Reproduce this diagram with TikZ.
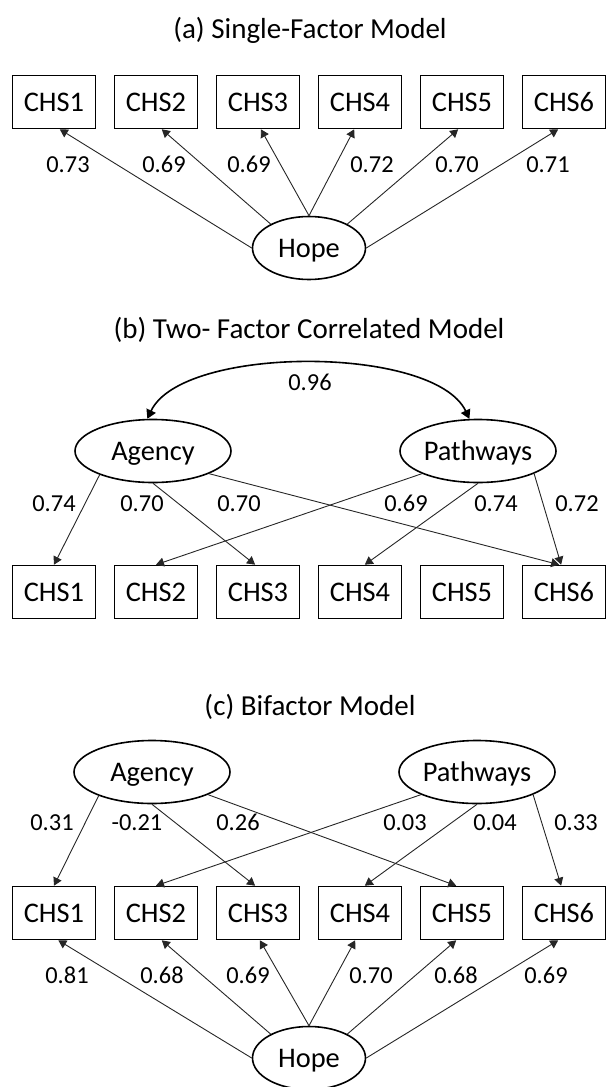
\documentclass[tikz,border=0pt]{standalone}
\usepackage{fontspec}
\setmainfont{Carlito}
\usepackage{tikz}
\usetikzlibrary{arrows.meta,positioning,shapes.geometric}
\tikzset{
  obsbox/.style={rectangle, draw=black, line width=0.8pt, minimum width=41.5pt, minimum height=26.5pt, inner sep=0pt, text height=9pt, text depth=0pt, font=\fontsize{14.2}{16}\selectfont},
  latent/.style={ellipse, draw=black, line width=0.8pt, minimum height=31.5pt, inner sep=0pt, text height=9pt, text depth=0pt, font=\fontsize{14.2}{16}\selectfont},
  loadlbl/.style={inner sep=0pt, text height=7.6pt, text depth=0pt, font=\fontsize{12.2}{14}\selectfont},
  paneltitle/.style={inner sep=0pt, font=\fontsize{14.5}{17}\selectfont},
  flowarrow/.style={-{Triangle[length=4pt,width=4.5pt]}, line width=0.45pt, draw=black!85},
  corrarrow/.style={{Triangle[length=4.5pt,width=5pt]}-{Triangle[length=4.5pt,width=5pt]}, line width=0.8pt}
}
\begin{document}
\begin{tikzpicture}[x=0.5pt, y=-0.5pt, node distance=8.7pt]
\useasboundingbox (0,0) rectangle (606,1087);

% (a) single factor
\node[paneltitle] (ta) at (310,30) {(a) Single-Factor Model};
\node[obsbox] (a1) at (54,102) {CHS1};
\node[obsbox, right=of a1] (a2) {CHS2};
\node[obsbox, right=of a2] (a3) {CHS3};
\node[obsbox, right=of a3] (a4) {CHS4};
\node[obsbox, right=of a4] (a5) {CHS5};
\node[obsbox, right=of a5] (a6) {CHS6};
\node[latent, minimum width=56.5pt] (ha) at (309,248) {Hope};
\draw[flowarrow] (ha.west) -- (a1.-78);
\draw[flowarrow] (ha.148) -- (a2.-78);
\draw[flowarrow] (ha.north) -- (a3.-84);
\draw[flowarrow] (ha.north) -- (a4.-102);
\draw[flowarrow] (ha.32) -- (a5.-98);
\draw[flowarrow] (ha.east) -- (a6.-102);
\node[loadlbl] (la1) at (68,165) {0.73};
\node[loadlbl] (la2) at (164,165) {0.69};
\node[loadlbl] (la3) at (249,165) {0.69};
\node[loadlbl] (la4) at (372,165) {0.72};
\node[loadlbl] (la5) at (457,165) {0.70};
\node[loadlbl] (la6) at (548,165) {0.71};

% (b) two correlated factors
\node[paneltitle] (tb) at (309,330) {(b) Two- Factor Correlated Model};
\node[latent, minimum width=78pt] (bag) at (153,451) {Agency};
\node[latent, minimum width=78pt] (bpw) at (478,451) {Pathways};
\draw[corrarrow] (bag.100) .. controls +(35,-74) and +(-35,-74) .. (bpw.105);
\node[loadlbl] (lbr) at (310,383) {0.96};
\node[obsbox] (b1) at (54,592) {CHS1};
\node[obsbox, right=of b1] (b2) {CHS2};
\node[obsbox, right=of b2] (b3) {CHS3};
\node[obsbox, right=of b3] (b4) {CHS4};
\node[obsbox, right=of b4] (b5) {CHS5};
\node[obsbox, right=of b5] (b6) {CHS6};
\draw[flowarrow] (bag.204) -- (b1.north);
\draw[flowarrow] (bag.south) -- (b3.96);
\draw[flowarrow] (bag.338) -- (b6.100);
\draw[flowarrow] (bpw.202) -- (b2.north);
\draw[flowarrow] (bpw.south) -- (b4.80);
\draw[flowarrow] (bpw.338) -- (b6.96);
\node[loadlbl] (lb1) at (54,504) {0.74};
\node[loadlbl] (lb2) at (142,504) {0.70};
\node[loadlbl] (lb3) at (239,504) {0.70};
\node[loadlbl] (lb4) at (406,504) {0.69};
\node[loadlbl] (lb5) at (496,504) {0.74};
\node[loadlbl] (lb6) at (577,504) {0.72};

% (c) bifactor
\node[paneltitle] (tc) at (310,707) {(c) Bifactor Model};
\node[latent, minimum width=78pt] (cag) at (152,772) {Agency};
\node[latent, minimum width=78pt] (cpw) at (477,772) {Pathways};
\node[obsbox] (c1) at (54,913) {CHS1};
\node[obsbox, right=of c1] (c2) {CHS2};
\node[obsbox, right=of c2] (c3) {CHS3};
\node[obsbox, right=of c3] (c4) {CHS4};
\node[obsbox, right=of c4] (c5) {CHS5};
\node[obsbox, right=of c5] (c6) {CHS6};
\draw[flowarrow] (cag.204) -- (c1.north);
\draw[flowarrow] (cag.south) -- (c3.96);
\draw[flowarrow] (cag.338) -- (c5.102);
\draw[flowarrow] (cpw.202) -- (c2.north);
\draw[flowarrow] (cpw.south) -- (c4.80);
\draw[flowarrow] (cpw.338) -- (c6.96);
\node[loadlbl] (lc1) at (52,823) {0.31};
\node[loadlbl] (lc2) at (137,823) {-0.21};
\node[loadlbl] (lc3) at (238,823) {0.26};
\node[loadlbl] (lc4) at (405,823) {0.03};
\node[loadlbl] (lc5) at (495,823) {0.04};
\node[loadlbl] (lc6) at (576,823) {0.33};
\node[latent, minimum width=56.5pt] (hc) at (309,1058) {Hope};
\draw[flowarrow] (hc.west) -- (c1.-81);
\draw[flowarrow] (hc.148) -- (c2.-78);
\draw[flowarrow] (hc.north) -- (c3.-86);
\draw[flowarrow] (hc.north) -- (c4.-100);
\draw[flowarrow] (hc.32) -- (c5.-102);
\draw[flowarrow] (hc.east) -- (c6.-102);
\node[loadlbl] (ld1) at (67,976) {0.81};
\node[loadlbl] (ld2) at (162,976) {0.68};
\node[loadlbl] (ld3) at (248,976) {0.69};
\node[loadlbl] (ld4) at (371,976) {0.70};
\node[loadlbl] (ld5) at (456,976) {0.68};
\node[loadlbl] (ld6) at (546,976) {0.69};
\end{tikzpicture}
\end{document}
